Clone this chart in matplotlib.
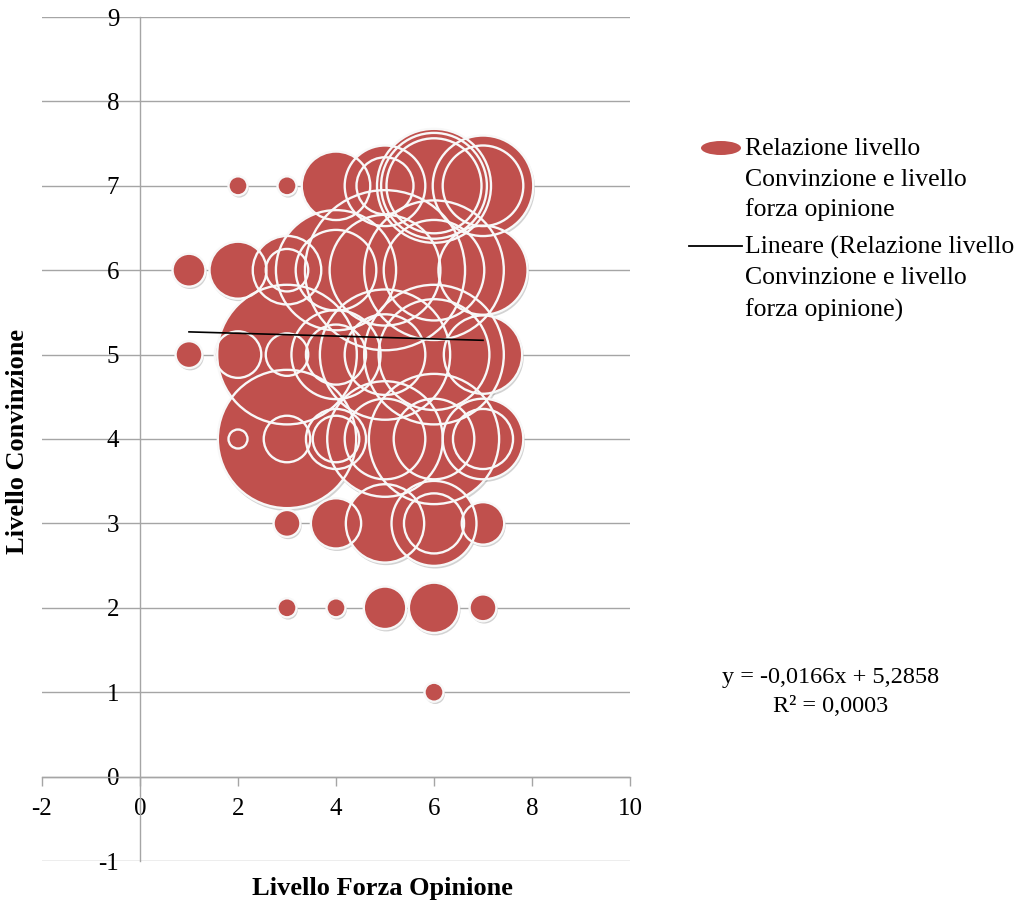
import matplotlib
matplotlib.use("Agg")
import numpy as np
import matplotlib.pyplot as plt
from matplotlib.patches import Ellipse
from matplotlib.lines import Line2D
from matplotlib.transforms import offset_copy

plt.rcParams["font.family"] = ["Liberation Serif", "DejaVu Serif"]
plt.rcParams["axes.unicode_minus"] = False

# Bubble data: strength of opinion (x), level of conviction (y), bubble value
bubble_x = [2, 3, 4, 5, 5, 6, 6, 6, 7, 7,
            1, 2, 3, 3, 4, 4, 5, 5, 6, 6, 7,
            1, 2, 3, 3, 4, 4, 5, 5, 6, 6, 7,
            2, 3, 3, 4, 4, 5, 5, 6, 6, 7, 7,
            3, 4, 5, 6, 6, 7,
            3, 4, 5, 6, 7,
            6]
bubble_y = [7, 7, 7, 7, 7, 7, 7, 7, 7, 7,
            6, 6, 6, 6, 6, 6, 6, 6, 6, 6, 6,
            5, 5, 5, 5, 5, 5, 5, 5, 5, 5, 5,
            4, 4, 4, 4, 4, 4, 4, 4, 4, 4, 4,
            3, 3, 3, 3, 3, 3,
            2, 2, 2, 2, 2,
            1]
bubble_value = [1, 1, 13, 18, 9, 36, 25, 31, 28, 18,
                3, 9, 13, 5, 40, 18, 71, 34, 54, 28, 22,
                2, 6, 54, 5, 22, 10, 47, 18, 54, 34, 17,
                1, 53, 6, 6, 10, 37, 18, 47, 18, 18, 10,
                2, 7, 17, 20, 10, 5,
                1, 1, 5, 7, 2,
                1]

# Linear trend
trend_slope = -0.0166
trend_intercept = 5.2858
trend_r2 = 0.0003
trend_x = [1, 7]

x_ticks = [-2, 0, 2, 4, 6, 8, 10]
y_ticks = [-1, 0, 1, 2, 3, 4, 5, 6, 7, 8, 9]

W, H, DPI = 1030, 907, 100
fig = plt.figure(figsize=(W / DPI, H / DPI), dpi=DPI)
ax = fig.add_axes([42 / W, 1 - 861 / H, 588 / W, 844 / H])
ax.set_xlim(-2, 10)
ax.set_ylim(-1, 9)

grid_col = "#a5a5a5"
ax.set_xticks(x_ticks)
ax.set_yticks(y_ticks)
ax.set_xticklabels([str(v) for v in x_ticks])
ax.set_yticklabels([str(v) for v in y_ticks])
ax.yaxis.grid(True, color=grid_col, lw=1.0, zorder=0)
ax.set_axisbelow(True)

for side in ("top", "right"):
    ax.spines[side].set_visible(False)
ax.spines["left"].set_position(("data", 0))
ax.spines["bottom"].set_position(("data", 0))
ax.spines["left"].set_color(grid_col)
ax.spines["bottom"].set_color(grid_col)
ax.spines["left"].set_linewidth(1.0)
ax.spines["bottom"].set_linewidth(1.0)

tick_fs = 18
ax.tick_params(axis="y", length=0, pad=15, labelsize=tick_fs)
ax.tick_params(axis="x", direction="out", length=6.5, width=1.0,
               color=grid_col, pad=9, labelsize=tick_fs)

# bubble area proportional to value
r_unit_pt = 9.5 * 72 / DPI
sizes = (2 * r_unit_pt) ** 2 * np.asarray(bubble_value, dtype=float)

shadow_tr = offset_copy(ax.transData, fig=fig, x=1.2, y=-2.2, units="dots")
ax.scatter(bubble_x, bubble_y, s=sizes * 1.02, c="#808080", alpha=0.35,
           linewidths=0, transform=shadow_tr, zorder=2)
ax.scatter(bubble_x, bubble_y, s=sizes, c="#C0504D", linewidths=0, zorder=3)
ax.scatter(bubble_x, bubble_y, s=sizes, facecolors="none",
           edgecolors="#f8f8f8", linewidths=1.7, zorder=4)

tx = np.array(trend_x, dtype=float)
ax.plot(tx, trend_slope * tx + trend_intercept, color="black", lw=1.2, zorder=5)

# axis titles
title_fs = 19
fig.text(18 / W, 1 - 441 / H, "Livello Convinzione", rotation=90,
         ha="center", va="center", fontsize=title_fs, fontweight="bold")
fig.text(382 / W, 1 - 889 / H, "Livello Forza Opinione",
         ha="center", va="center", fontsize=title_fs, fontweight="bold")

# legend
leg_fs = 18.5
fig.patches.append(Ellipse((721 / W, 1 - 148 / H), 40 / W, 14 / H,
                           transform=fig.transFigure, facecolor="#C0504D",
                           edgecolor="none"))
fig.lines.append(Line2D([689 / W, 742 / W], [1 - 246 / H, 1 - 246 / H],
                        transform=fig.transFigure, color="black", lw=1.3))
leg_lines_1 = ["Relazione livello", "Convinzione e livello", "forza opinione"]
leg_lines_2 = ["Lineare (Relazione livello", "Convinzione e livello",
               "forza opinione)"]
for i, t in enumerate(leg_lines_1):
    fig.text(745 / W, 1 - (149 + 30.5 * i) / H, t, ha="left", va="center",
             fontsize=leg_fs)
for i, t in enumerate(leg_lines_2):
    fig.text(745 / W, 1 - (247 + 31.5 * i) / H, t, ha="left", va="center",
             fontsize=leg_fs)

# trend equation
eq_fs = 17.5
eq = "y = {:.4f}x + {:.4f}".format(trend_slope, trend_intercept).replace(".", ",")
r2 = "R² = {:.4f}".format(trend_r2).replace(".", ",")
fig.text(831 / W, 1 - 677 / H, eq, ha="center", va="center", fontsize=eq_fs)
fig.text(831 / W, 1 - 706 / H, r2, ha="center", va="center", fontsize=eq_fs)

fig.savefig("out.png", dpi=DPI)
